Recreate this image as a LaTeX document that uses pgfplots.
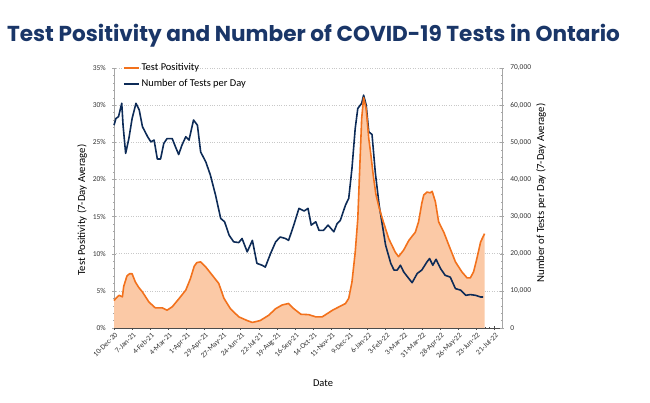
\documentclass[border=0pt]{standalone}
\usepackage{pgfplots}
\usepackage{pgfplotstable}
\pgfplotsset{compat=1.18}
\usepackage{fontspec}
\setmainfont{Carlito}
\newfontfamily\titlefont{Poppins}
\definecolor{tblue}{HTML}{0D2B57}
\definecolor{torange}{HTML}{F2711C}
\definecolor{tpeach}{HTML}{FBC9A6}
\definecolor{ttitle}{HTML}{1A3668}
\definecolor{tgrid}{HTML}{C8C8C8}
\definecolor{taxis}{HTML}{A6A6A6}

\pgfplotstableread{
day pct
0 3.7
4 4.1
8 4.4
13 4.2
15 5.6
20 7.0
24 7.3
28 7.3
33 6.2
38 5.5
44 4.85
54 3.5
64 2.7
75 2.7
82 2.4
90 2.85
100 3.9
111 5.1
118 6.6
124 8.3
128 8.8
134 8.9
142 8.2
152 7.1
162 6.0
166 5.0
170 4.0
180 2.6
193 1.5
206 1.0
214 0.75
226 1.0
239 1.7
250 2.6
260 3.1
270 3.3
278 2.6
289 1.85
301 1.8
312 1.5
322 1.5
330 1.95
338 2.4
348 2.85
358 3.3
363 4.0
368 6.2
373 10.2
377 14.7
380 21.5
383 28.2
386 31.0
390 29.5
394 25.5
397 23.5
401 20.5
405 18.0
410 16.2
415 14.7
425 12.0
435 10.2
440 9.6
448 10.5
456 11.8
466 12.9
471 14.3
476 16.8
479 17.9
484 18.3
489 18.2
492 18.4
497 17.0
502 14.3
510 12.9
518 11.1
528 8.9
538 7.55
546 6.75
551 6.75
556 7.55
561 9.3
567 11.6
573 12.7
}\positivity

\pgfplotstableread{
day tests
0 54600
3 56400
7 56900
12 60500
14 54600
18 47000
23 51000
28 56400
34 60500
39 58700
44 54200
52 51500
57 50100
62 50600
67 45500
72 45500
77 49700
82 51000
90 51000
95 48800
100 46700
105 49200
111 51500
116 50600
123 56000
129 54600
134 47400
142 44700
149 41200
157 35800
165 29500
171 28600
178 25000
185 23200
193 23000
198 24100
206 20500
214 23600
221 17400
229 16900
234 16400
242 20000
250 23200
257 24500
265 24100
270 23600
278 27700
286 32200
294 31500
300 32200
305 27700
312 28600
317 26300
324 26300
331 27700
340 25900
345 28100
350 29000
358 33100
363 34900
368 43000
373 53700
377 59100
383 60500
386 62700
390 60000
394 52800
399 52100
404 42000
410 33100
415 27700
420 22300
428 17400
433 15600
438 15600
443 16900
448 15100
456 13300
461 12200
469 14700
476 15600
484 17800
488 18700
493 16900
498 18500
505 16000
512 14200
520 13700
528 10600
536 10200
544 8800
551 9000
559 8800
567 8350
571 8350
}\tests

\begin{document}
\begin{tikzpicture}
\pgfplotsset{
  base/.style={
    at={(114bp,75bp)}, anchor=south west,
    scale only axis, width=388bp, height=260bp,
    xmin=0, xmax=600,
    /pgf/number format/assume math mode=true,
    tick label style={font=\fontsize{7.5}{8}\selectfont, color=black!80},
    major tick length=3.5bp, minor tick length=2bp,
  }
}
% left axis: fill, grid
\begin{axis}[base,
  ymin=0, ymax=35,
  axis x line*=bottom, axis y line*=left,
  x axis line style={color=black!70, line width=0.5pt, -},
  y axis line style={color=taxis, line width=0.5pt, -},
  xtick={0,28,...,588},
  minor x tick num=3,
  xticklabels={10-Dec-20,7-Jan-21,4-Feb-21,4-Mar-21,1-Apr-21,29-Apr-21,27-May-21,24-Jun-21,22-Jul-21,19-Aug-21,16-Sep-21,14-Oct-21,11-Nov-21,9-Dec-21,6-Jan-22,3-Feb-22,3-Mar-22,31-Mar-22,28-Apr-22,26-May-22,23-Jun-22,21-Jul-22},
  x tick label style={rotate=45, anchor=north east, font=\fontsize{7.5}{8}\selectfont, inner sep=1pt, yshift=-1bp},
  x tick style={color=black!70, line width=0.5pt},
  tick align=center,
  ytick={0,5,...,35},
  minor y tick num=4,
  y tick style={color=taxis, line width=0.4pt},
  yticklabel={\pgfmathprintnumber{\tick}\%},
  y tick label style={xshift=-3bp},
  ymajorgrids,
  major grid style={color=tgrid, dotted, line width=0.6pt},
  clip=false,
]
\addplot[fill=tpeach, draw=none] table[x=day, y=pct] {\positivity} \closedcycle;
\end{axis}
% right axis: tests (positivity line re-expressed on the same frame: 35% = 70,000)
\begin{axis}[base,
  ymin=0, ymax=70000,
  hide x axis,
  axis y line*=right,
  y axis line style={color=taxis, line width=0.5pt, -},
  ytick={0,10000,...,70000},
  minor y tick num=4,
  y tick style={color=taxis, line width=0.4pt},
  tick align=center,
  scaled y ticks=false,
  /pgf/number format/1000 sep={,},
  y tick label style={xshift=3bp},
  clip=false,
  legend style={at={(0.02,1.03)}, anchor=north west, draw=none, fill=none,
    font=\fontsize{10.5}{12}\selectfont, row sep=3.5bp, inner sep=1pt},
  legend cell align=left,
  reverse legend,
  legend image code/.code={\draw[#1] (0bp,0bp) -- (15bp,0bp);},
]
\addplot[tblue, line width=1.6pt, line join=round] table[x=day, y=tests] {\tests};
\addlegendentry{Number of Tests per Day}
\addplot[torange, line width=1.6pt, line join=round] table[x=day, y expr=\thisrow{pct}*2000] {\positivity};
\addlegendentry{Test Positivity}
\end{axis}

\node[font=\titlefont\bfseries\fontsize{21.7}{24}\selectfont, color=ttitle] at (313.5bp,367bp) {Test Positivity and Number of COVID-19 Tests in Ontario};
\node[rotate=90, font=\fontsize{10.8}{12}\selectfont] at (82bp,193bp) {Test Positivity (7-Day Average)};
\node[rotate=90, font=\fontsize{10.8}{12}\selectfont] at (541bp,210bp) {Number of Tests per Day (7-Day Average)};
\node[font=\fontsize{10.5}{12}\selectfont] at (323bp,20bp) {Date};

\pgfresetboundingbox
\useasboundingbox (0,0) rectangle (650bp,403bp);
\end{tikzpicture}
\end{document}
